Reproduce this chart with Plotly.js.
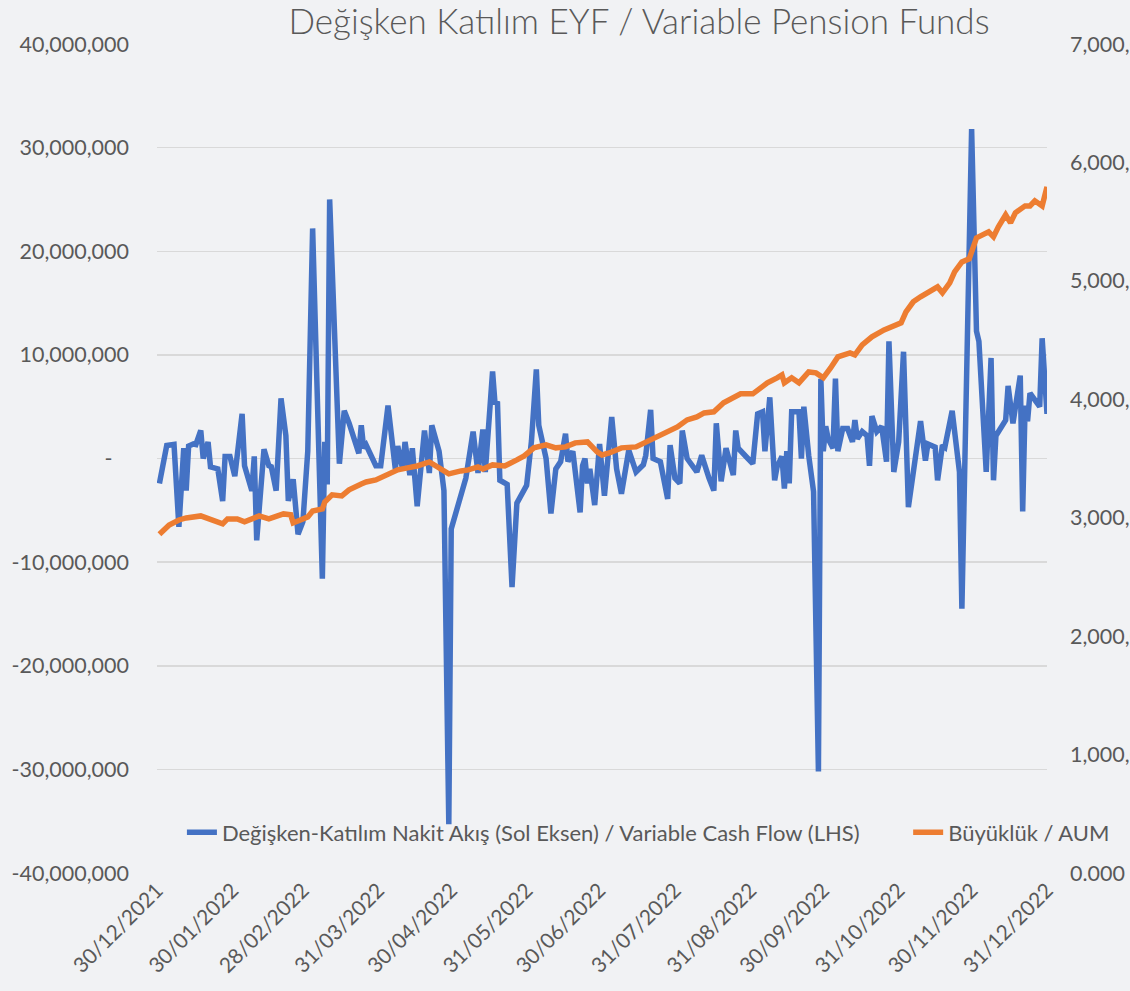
<!DOCTYPE html>
<html><head><meta charset="utf-8">
<script src="https://cdn.plot.ly/plotly-3.0.1.min.js"></script>
<style>html,body{margin:0;padding:0;background:#f1f2f4;overflow:hidden}</style>
</head><body><div id="chart" style="width:1130px;height:991px"></div>
<script>
const flowDates = ['2021-12-31','2022-01-03','2022-01-06','2022-01-08','2022-01-10','2022-01-11','2022-01-12','2022-01-14','2022-01-15','2022-01-17','2022-01-18','2022-01-20','2022-01-21','2022-01-24','2022-01-26','2022-01-27','2022-01-29','2022-01-31',
'2022-02-03','2022-02-04','2022-02-07','2022-02-08','2022-02-09','2022-02-12','2022-02-14','2022-02-15','2022-02-17','2022-02-19','2022-02-21','2022-02-22','2022-02-24','2022-02-25','2022-02-26','2022-02-28',
'2022-03-02','2022-03-04','2022-03-08','2022-03-09','2022-03-10','2022-03-11','2022-03-15','2022-03-17','2022-03-19','2022-03-23','2022-03-24','2022-03-25','2022-03-26','2022-03-30',
'2022-04-01','2022-04-04','2022-04-06','2022-04-07','2022-04-08','2022-04-10','2022-04-11','2022-04-13','2022-04-14','2022-04-16','2022-04-19','2022-04-21','2022-04-22','2022-04-25','2022-04-27','2022-04-29','2022-04-30',
'2022-05-06','2022-05-09','2022-05-11','2022-05-13','2022-05-14','2022-05-17','2022-05-18','2022-05-19','2022-05-20','2022-05-23','2022-05-25','2022-05-27','2022-05-31',
'2022-06-02','2022-06-04','2022-06-05','2022-06-08','2022-06-10','2022-06-12','2022-06-14','2022-06-16','2022-06-17','2022-06-19','2022-06-22','2022-06-23','2022-06-24','2022-06-25','2022-06-26','2022-06-28','2022-06-30',
'2022-07-02','2022-07-05','2022-07-07','2022-07-09','2022-07-12','2022-07-15','2022-07-18','2022-07-19','2022-07-21','2022-07-22','2022-07-25','2022-07-28','2022-07-29','2022-07-31',
'2022-08-02','2022-08-03','2022-08-05','2022-08-09','2022-08-11','2022-08-14','2022-08-16','2022-08-17','2022-08-19','2022-08-21','2022-08-24','2022-08-25','2022-08-26','2022-08-30',
'2022-09-01','2022-09-03','2022-09-05','2022-09-06','2022-09-08','2022-09-10','2022-09-11','2022-09-13','2022-09-14','2022-09-15','2022-09-16','2022-09-17','2022-09-20','2022-09-21','2022-09-22','2022-09-24','2022-09-26','2022-09-28','2022-09-29','2022-09-30',
'2022-10-01','2022-10-02','2022-10-04','2022-10-05','2022-10-06','2022-10-08','2022-10-10','2022-10-12','2022-10-13','2022-10-14','2022-10-16','2022-10-18','2022-10-19','2022-10-20','2022-10-22','2022-10-24','2022-10-26','2022-10-27','2022-10-29','2022-10-31',
'2022-11-02','2022-11-04','2022-11-09','2022-11-11','2022-11-12','2022-11-15','2022-11-16','2022-11-18','2022-11-19','2022-11-22','2022-11-25','2022-11-26','2022-11-30',
'2022-12-02','2022-12-03','2022-12-06','2022-12-08','2022-12-09','2022-12-10','2022-12-14','2022-12-15','2022-12-17','2022-12-20','2022-12-21','2022-12-22','2022-12-23','2022-12-24','2022-12-28','2022-12-29','2022-12-31'];
const flowValues = [-2.4e6,1.25e6,1.35e6,-6.6e6,1.0e6,-3.1e6,1.2e6,1.4e6,1.35e6,2.7e6,0,1.6e6,-0.8e6,-1.0e6,-4.1e6,0.2e6,0.2e6,-1.7e6,
4.3e6,-0.7e6,-3.1e6,0.2e6,-7.9e6,0.9e6,-0.7e6,-0.8e6,-3.1e6,5.8e6,2.2e6,-4.1e6,-2.0e6,-4.1e6,-7.3e6,-6.1e6,
0.7e6,22.2e6,-11.6e6,1.6e6,-2.5e6,25.0e6,-0.5e6,4.6e6,3.4e6,0.5e6,3.2e6,1.0e6,1.3e6,-0.7e6,
-0.7e6,5.1e6,1.6e6,-1.0e6,1.2e6,-1.0e6,1.6e6,-1.6e6,1.0e6,-4.6e6,2.7e6,-1.4e6,3.2e6,0.7e6,-3.1e6,-35.3e6,-6.8e6,
-1.9e6,2.6e6,-1.4e6,2.8e6,-1.3e6,8.4e6,5.3e6,5.5e6,-2.1e6,-2.5e6,-12.4e6,-4.3e6,-2.6e6,
1.7e6,8.6e6,3.2e6,0,-5.3e6,-1.0e6,-0.3e6,2.4e6,-0.3e6,0.7e6,-5.2e6,-0.7e6,0,-2.4e6,-1.0e6,-4.5e6,1.4e6,
-3.6e6,4.0e6,-1.0e6,-3.4e6,0.8e6,-1.3e6,-0.6e6,0.3e6,4.7e6,0,-0.3e6,-3.9e6,1.3e6,-1.9e6,
-2.4e6,2.7e6,0,-1.3e6,0.3e6,-1.9e6,-3.1e6,3.4e6,-2.2e6,1.0e6,-1.6e6,2.7e6,1.0e6,0,
-0.5e6,4.3e6,4.5e6,0.7e6,5.9e6,-2.1e6,-0.8e6,0.2e6,-2.9e6,0.7e6,-2.4e6,4.5e6,4.5e6,0,5.0e6,0.3e6,-3.2e6,-30.2e6,7.7e6,0.7e6,
3.1e6,1.9e6,1.0e6,7.7e6,0.7e6,2.9e6,2.9e6,1.6e6,3.7e6,1.9e6,2.6e6,2.2e6,-0.7e6,4.1e6,2.6e6,3.1e6,-0.3e6,11.3e6,-1.3e6,1.6e6,
10.3e6,-4.7e6,3.6e6,-0.2e6,1.4e6,1.1e6,-2.1e6,1.3e6,1.1e6,4.6e6,-1.3e6,-14.5e6,31.8e6,
12.3e6,11.3e6,-1.3e6,9.7e6,-2.1e6,2.2e6,3.7e6,7.0e6,3.4e6,8.0e6,-5.1e6,5.1e6,3.6e6,6.3e6,5.0e6,11.6e6,4.3e6];

const aumDates = ['2021-12-31','2022-01-04','2022-01-08','2022-01-11','2022-01-17','2022-01-21','2022-01-26','2022-01-28','2022-02-01','2022-02-04','2022-02-10','2022-02-14','2022-02-17','2022-02-20','2022-02-23','2022-02-24','2022-02-27',
'2022-03-02','2022-03-04','2022-03-08','2022-03-09','2022-03-12','2022-03-16','2022-03-19','2022-03-24','2022-03-26','2022-03-30','2022-04-04','2022-04-08','2022-04-12','2022-04-16','2022-04-21','2022-04-23','2022-04-25','2022-04-29',
'2022-05-04','2022-05-07','2022-05-11','2022-05-13','2022-05-17','2022-05-22','2022-05-27','2022-05-30','2022-06-03','2022-06-08','2022-06-12','2022-06-16','2022-06-20','2022-06-23','2022-06-25','2022-06-29',
'2022-07-01','2022-07-04','2022-07-09','2022-07-15','2022-07-21','2022-07-25','2022-07-28','2022-08-01','2022-08-05','2022-08-09','2022-08-12','2022-08-16','2022-08-20','2022-08-24','2022-08-27',
'2022-09-01','2022-09-04','2022-09-07','2022-09-11','2022-09-13','2022-09-14','2022-09-17','2022-09-20','2022-09-24','2022-09-27','2022-09-30',
'2022-10-03','2022-10-06','2022-10-11','2022-10-13','2022-10-16','2022-10-20','2022-10-25','2022-11-01','2022-11-03','2022-11-06','2022-11-09','2022-11-12','2022-11-16','2022-11-18','2022-11-21','2022-11-23','2022-11-26','2022-11-29',
'2022-12-02','2022-12-07','2022-12-09','2022-12-11','2022-12-14','2022-12-16','2022-12-18','2022-12-22','2022-12-24','2022-12-26','2022-12-29','2022-12-31'];
const aumValues = [2860,2939,2981,2998,3015,2990,2948,2990,2990,2965,3015,2990,3015,3032,3024,2956,2981,
3007,3057,3074,3133,3193,3184,3235,3285,3302,3319,3361,3404,3421,3437,3471,3446,3429,3370,
3395,3404,3429,3412,3446,3437,3488,3522,3590,3615,3590,3598,3632,3640,3640,3556,
3530,3547,3590,3598,3657,3691,3716,3767,3826,3851,3885,3894,3970,4012,4046,
4046,4088,4139,4181,4206,4139,4181,4139,4231,4223,4181,
4265,4358,4392,4375,4459,4527,4586,4645,4738,4823,4865,4899,4949,4899,4983,5076,5160,5186,
5363,5414,5372,5456,5557,5490,5574,5633,5633,5676,5633,5794];

const monthTickDates = ['2021-12-30','2022-01-30','2022-02-28','2022-03-31','2022-04-30','2022-05-31','2022-06-30','2022-07-31','2022-08-31','2022-09-30','2022-10-31','2022-11-30','2022-12-31'];
const monthTickLabels = ['30/12/2021','30/01/2022','28/02/2022','31/03/2022','30/04/2022','31/05/2022','30/06/2022','31/07/2022','31/08/2022','30/09/2022','31/10/2022','30/11/2022','31/12/2022'];
const leftTickVals = [-40e6,-30e6,-20e6,-10e6,0,10e6,20e6,30e6,40e6];
const leftTickLabels = ['-40,000,000','-30,000,000','-20,000,000','-10,000,000','-\u00a0\u00a0\u00a0','10,000,000','20,000,000','30,000,000','40,000,000'];
const rightTickVals = [0,1000,2000,3000,4000,5000,6000,7000];
const rightTickLabels = ['0.000','1,000,000','2,000,000','3,000,000','4,000,000','5,000,000','6,000,000','7,000,000'];

const seriesNames = ['Değişken-Katılım Nakit Akış (Sol Eksen) / Variable Cash Flow (LHS)','Büyüklük / AUM'];
const chartTitle = 'Değişken Katılım EYF / Variable Pension Funds';

const FONT = 'Lato, "Open Sans", sans-serif';
const TXT = '#595959';
const GRID = '#d9d9d9';

const traces = [
  {x: aumDates, y: aumValues, name: seriesNames[1], type: 'scatter', mode: 'lines', yaxis: 'y2',
   line: {color: '#ed7d31', width: 5.5}, legend: 'legend2'},
  {x: flowDates, y: flowValues, name: seriesNames[0], type: 'scatter', mode: 'lines', yaxis: 'y',
   line: {color: '#4472c4', width: 5.5}, legend: 'legend'}
];

const legendFont = {family: FONT, size: 22, color: TXT};
const layout = {
  width: 1130, height: 991,
  paper_bgcolor: '#f1f2f4', plot_bgcolor: 'rgba(0,0,0,0)',
  margin: {l: 157, r: 83, t: 44, b: 118},
  font: {family: FONT, color: TXT},
  title: {text: chartTitle, font: {family: FONT, size: 35, weight: 300, color: TXT}, x: 0.5655, xanchor: 'center', y: 0.978, yanchor: 'middle'},
  showlegend: true,
  legend: {orientation: 'h', x: 0.028, xanchor: 'left', y: 0.049, yanchor: 'middle',
    font: legendFont, bgcolor: 'rgba(0,0,0,0)'},
  legend2: {orientation: 'h', x: 0.844, xanchor: 'left', y: 0.049, yanchor: 'middle',
    font: legendFont, bgcolor: 'rgba(0,0,0,0)'},
  xaxis: {type: 'date', range: ['2021-12-30','2022-12-31'], tickvals: monthTickDates, ticktext: monthTickLabels,
    tickangle: -45, showgrid: false, zeroline: false, showline: false, ticks: '',
    tickfont: {family: FONT, size: 21, color: TXT}},
  xaxis2: {type: 'date', range: ['2021-12-30','2022-12-31'], tickvals: monthTickDates, overlaying: 'x',
    anchor: 'free', position: 0.5, showline: true, linecolor: GRID, linewidth: 1.5,
    ticks: 'outside', ticklen: 6, tickcolor: GRID, tickwidth: 1.5, showticklabels: false, showgrid: false, zeroline: false},
  yaxis: {range: [-40e6, 40e6], tickvals: leftTickVals, ticktext: leftTickLabels, showgrid: true, gridcolor: GRID, gridwidth: 1.5,
    zeroline: false, showline: false, ticks: '', ticklabelstandoff: 27, tickfont: {family: FONT, size: 21.5, color: TXT}},
  yaxis2: {range: [0, 7000], overlaying: 'y', side: 'right', tickvals: rightTickVals, ticktext: rightTickLabels,
    showgrid: false, zeroline: false, showline: false, ticks: '', ticklabelstandoff: 22, tickfont: {family: FONT, size: 21.5, color: TXT}}
};

Plotly.newPlot('chart', traces, layout, {displayModeBar: false, staticPlot: true});
</script></body></html>
